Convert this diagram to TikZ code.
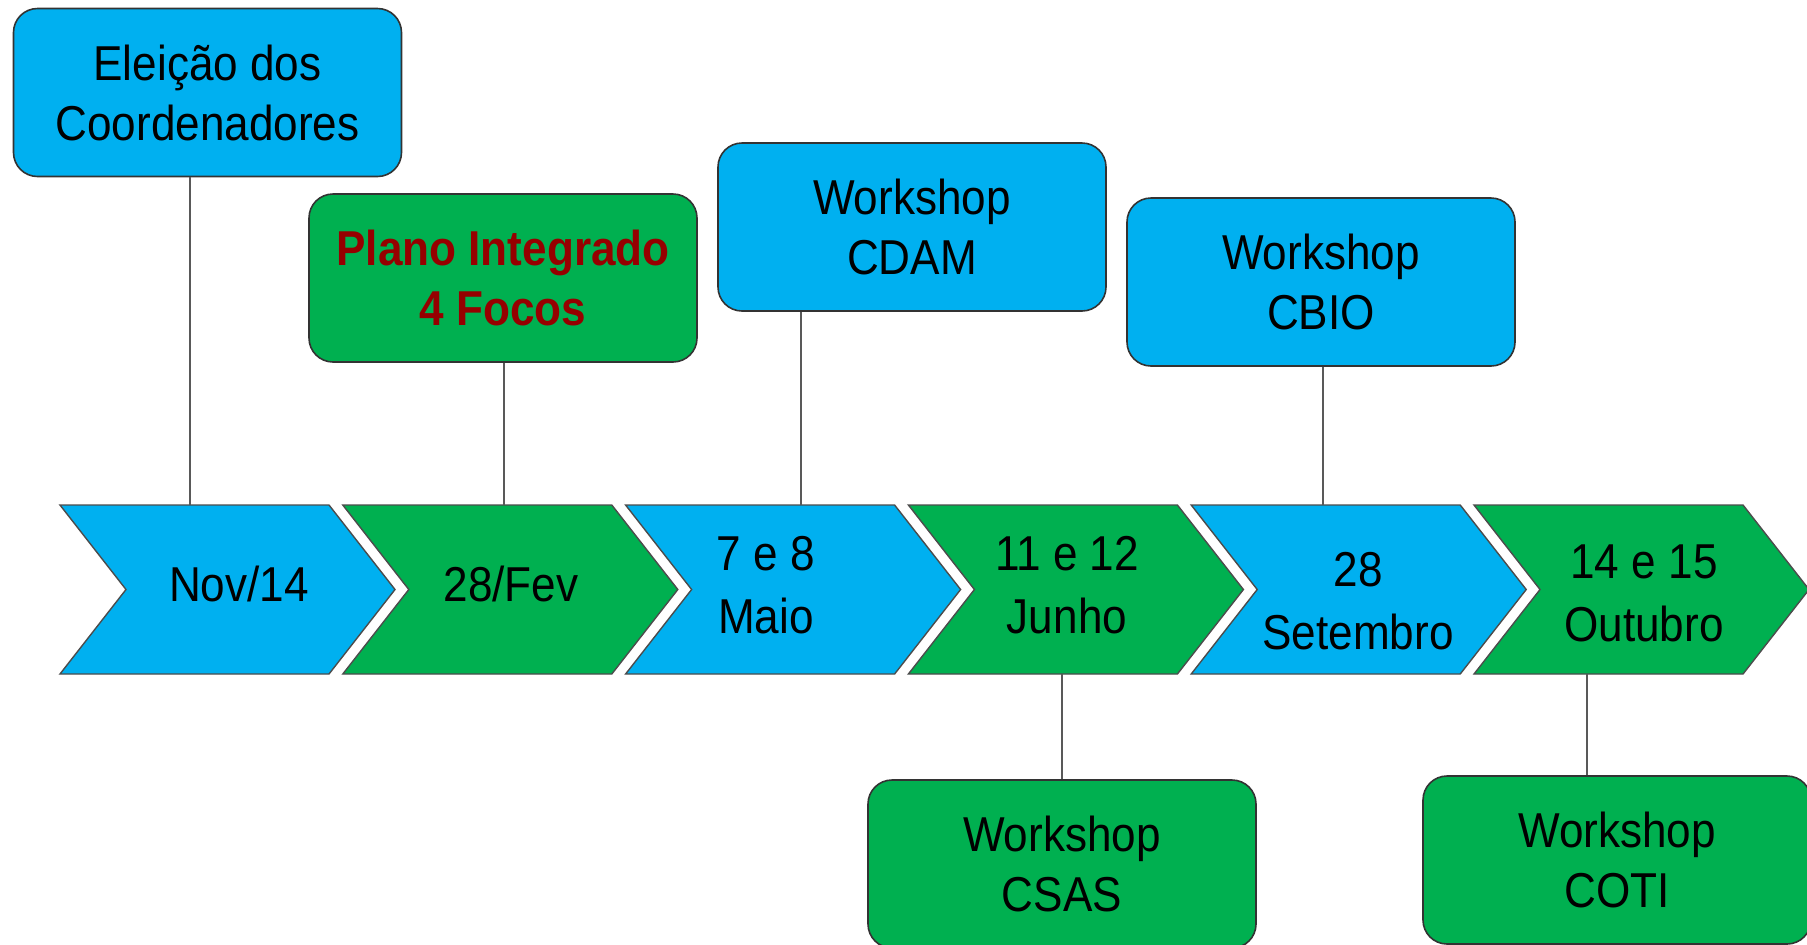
\documentclass[tikz,border=0pt]{standalone}
\usepackage{fontspec}
\setmainfont{Liberation Sans}[FakeStretch=0.9]
\usepackage{tikz}
\usetikzlibrary{calc}
\tikzset{>=latex}
\definecolor{skyblue}{RGB}{0,176,240}
\definecolor{officegreen}{RGB}{0,176,80}
\definecolor{darkred}{RGB}{150,0,0}
\tikzset{
  event/.style={draw=black!80, line width=0.8pt, rounded corners=12pt, minimum width=194pt, minimum height=84pt, align=center, font=\fontsize{24.5}{30}\selectfont},
  chev/.style={draw=black!70, line width=0.7pt},
  date/.style={align=center, font=\fontsize{24.5}{31.5}\selectfont},
  link/.style={draw=black!65, line width=0.8pt}
}

\begin{document}
\begin{tikzpicture}[x=0.5pt, y=-0.5pt]
    \useasboundingbox (0,0) rectangle (1807,944);

    % time line
    \foreach \i/\c in {0/skyblue,1/officegreen,2/skyblue,3/officegreen,4/skyblue,5/officegreen}
    \draw [chev, fill=\c] (60+282.8*\i,505) --++ (269,0) --++ (66,84.5) --++ (-66,84.5) --++ (-269,0) --++ (66,-84.5) -- cycle;
    \node at (239,584) [date](d1){Nov/14};
    \node at (511,584) [date](d2){28/Fev};
    \node at (766,585) [date](d3){7 e 8\\Maio};
    \node at (1067,585) [date](d4){11 e 12\\Junho};
    \node at (1358,601) [date](d5){28\\Setembro};
    \node at (1644,593) [date](d6){14 e 15\\Outubro};

    % events
    \node at (207.5,92.5) [event, fill=skyblue](e1){Eleição dos\\Coordenadores};
    \node at (503,278) [event, fill=officegreen, text=darkred, font=\fontsize{24.5}{30}\selectfont\bfseries](e2){Plano Integrado\\4 Focos};
    \node at (912,227) [event, fill=skyblue](e3){Workshop\\CDAM};
    \node at (1321,282) [event, fill=skyblue](e4){Workshop\\CBIO};
    \node at (1062,864) [event, fill=officegreen](e5){Workshop\\CSAS};
    \node at (1617,860) [event, fill=officegreen](e6){Workshop\\COTI};

    % links
    \coordinate (t1) at (190,505);
    \coordinate (t2) at (504,505);
    \coordinate (t3) at (801,505);
    \coordinate (t4) at (1323,505);
    \coordinate (b4) at (1062,674);
    \coordinate (b6) at (1587,674);
    \draw [link] (e1.south -| t1) -- (t1);
    \draw [link] (e2.south -| t2) -- (t2);
    \draw [link] (e3.south -| t3) -- (t3);
    \draw [link] (e4.south -| t4) -- (t4);
    \draw [link] (b4) -- (e5.north -| b4);
    \draw [link] (b6) -- (e6.north -| b6);
  \end{tikzpicture}
\end{document}
